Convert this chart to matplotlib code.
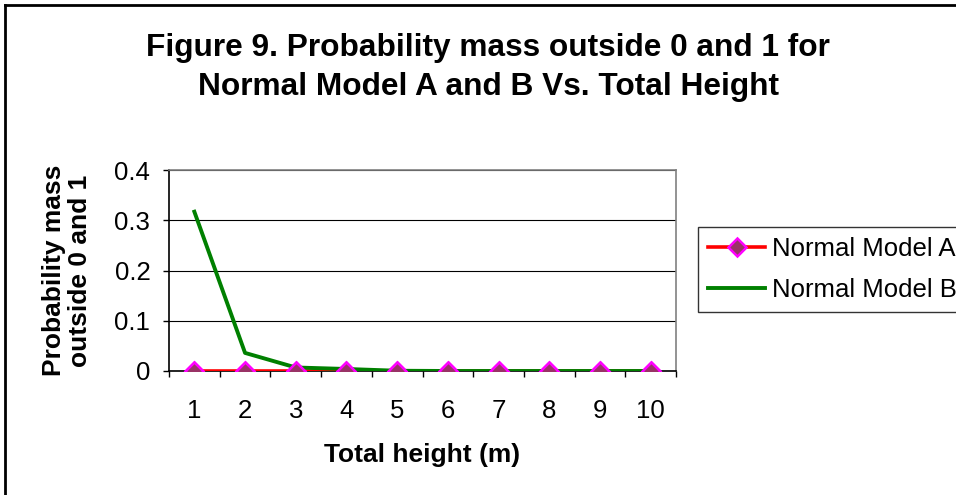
import numpy as np
import matplotlib
matplotlib.use('Agg')
from matplotlib import pyplot as plt
from matplotlib.lines import Line2D

plt.rcParams['font.family'] = ['Liberation Sans', 'DejaVu Sans']

heights = [1, 2, 3, 4, 5, 6, 7, 8, 9, 10]
model_a = [0, 0, 0, 0, 0, 0, 0, 0, 0, 0]
model_b = [0.317, 0.036, 0.007, 0.004, 0.0005, 0, 0, 0, 0, 0]
y_ticks = [0, 0.1, 0.2, 0.3, 0.4]
y_labels = ['0', '0.1', '0.2', '0.3', '0.4']

fig = plt.figure(figsize=(9.56, 4.95), dpi=100)
ax = fig.add_axes([169/956, 1-371/495, 507/956, 201/495])

# outer chart frame (top and left edges only show)
fig.add_artist(Line2D([5/956, 1.0], [1-5/495, 1-5/495], color='black', lw=2, transform=fig.transFigure))
fig.add_artist(Line2D([5/956, 5/956], [0.0, 1-5/495], color='black', lw=2, transform=fig.transFigure))

mk = dict(marker='D', markersize=9, markerfacecolor='#993366',
          markeredgecolor='#FF00FF', markeredgewidth=1.8)
ax.plot(heights, model_a, color='#FF0000', lw=2.6, zorder=3, label='Normal Model A', **mk)
ax.plot(heights, model_b, color='#008000', lw=2.8, zorder=4, label='Normal Model B')
# keep the diamonds above the green line
ax.plot(heights, model_a, ls='none', zorder=5, **mk)

ax.set_xlim(0.5, 10.5)
ax.set_ylim(0, 0.4)
ax.set_yticks(y_ticks)
ax.set_yticklabels(y_labels, fontsize=18.5)
ax.set_xticks(heights)
ax.set_xticklabels([str(h) for h in heights], fontsize=18.5)
ax.set_xticks(np.arange(0.5, 11, 1), minor=True)
ax.tick_params(axis='x', which='major', length=0, pad=20)
ax.tick_params(axis='x', which='minor', length=4.5, direction='out', width=1)
ax.tick_params(axis='y', length=4.5, direction='out', width=1, pad=9)

ax.yaxis.grid(True, color='black', lw=0.8)
ax.set_axisbelow(True)
ax.spines['top'].set_color('#808080')
ax.spines['right'].set_color('#808080')
for s in ax.spines.values():
    s.set_linewidth(1.2)

ax.set_xlabel('Total height (m)', fontsize=19, fontweight='bold')
ax.xaxis.set_label_coords(0.5, (371-455)/201)
ax.xaxis.label.set_va('center')
ax.set_ylabel('Probability mass\noutside 0 and 1', fontsize=19, fontweight='bold', linespacing=1.1)
ax.yaxis.set_label_coords((67-169)/507, 0.5)
ax.yaxis.label.set_va('center')

fig.text(488/956, 1-67.5/495, 'Figure 9. Probability mass outside 0 and 1 for\nNormal Model A and B Vs. Total Height',
         ha='center', va='center', fontsize=22.8, fontweight='bold', linespacing=1.4)

leg = fig.legend(loc='upper left', bbox_to_anchor=(698/956, 1-227/495), fontsize=18.5,
                 frameon=True, fancybox=False, edgecolor='black', handlelength=2.2,
                 handletextpad=0.27, borderpad=0.4, labelspacing=0.65, borderaxespad=0)
leg.get_frame().set_linewidth(1.0)

fig.savefig('out.png', dpi=100)
